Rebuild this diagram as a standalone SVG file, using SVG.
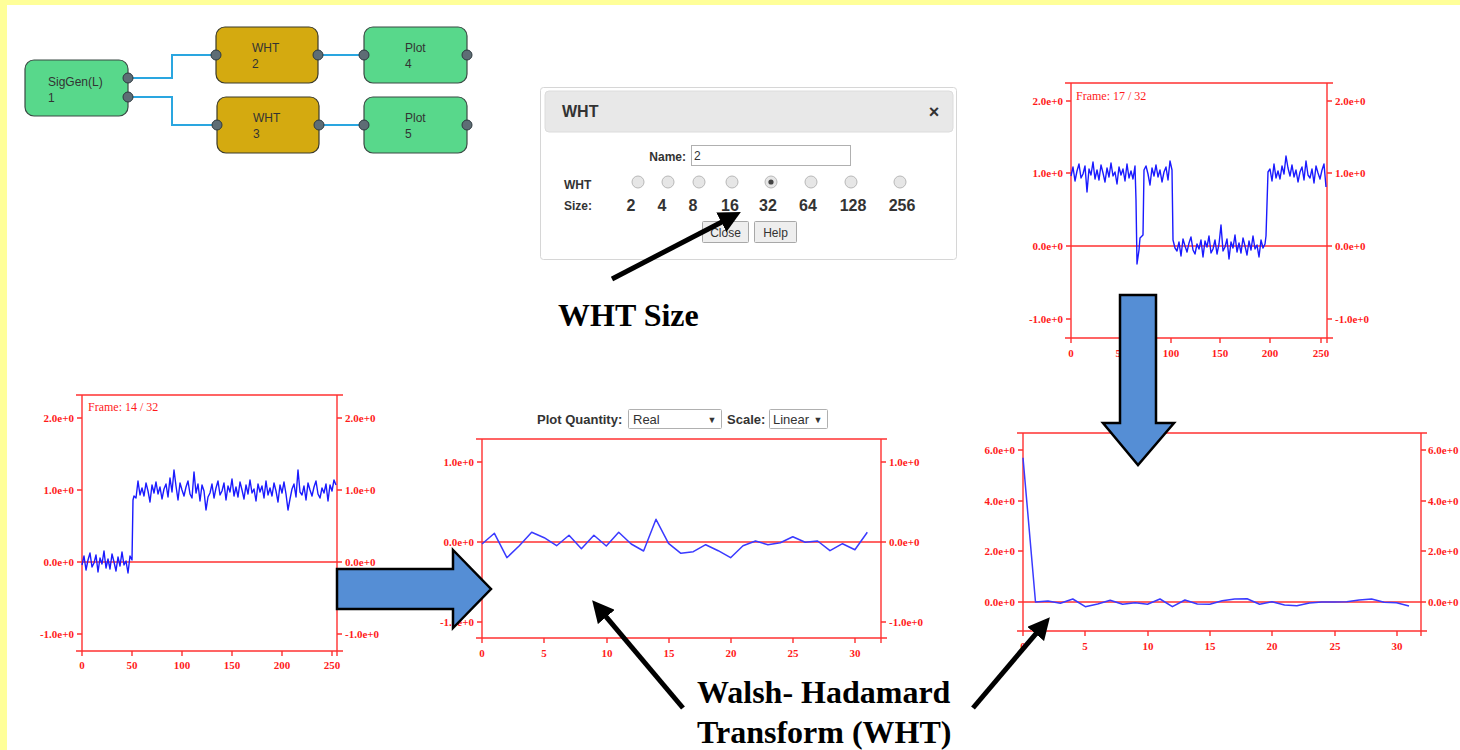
<svg xmlns="http://www.w3.org/2000/svg" width="1460" height="750" viewBox="0 0 1460 750">
  <defs>
    <style>
      .node-text { font-family: "Liberation Sans", Arial, sans-serif; font-size: 12px; fill: #333; }
      .node-green { fill: #58d88b; stroke: #3a4a44; stroke-width: 1.2; }
      .node-gold { fill: #d4aa10; stroke: #3a3a2a; stroke-width: 1.2; }
      .port { fill: #5e6d75; stroke: #2e3a40; stroke-width: 1; }
      .wire { fill: none; stroke: #2aa6e0; stroke-width: 2; }
      .ui { font-family: "Liberation Sans", Arial, sans-serif; fill: #333; }
      .ui-b { font-family: "Liberation Sans", Arial, sans-serif; fill: #333; font-weight: bold; }
      .radio { fill: #e6e6e6; stroke: #b8b8b8; stroke-width: 1; }
      .btn { fill: #eeeeee; stroke: #a8a8a8; stroke-width: 1; }
      .box { fill: #ffffff; stroke: #b0b0b0; stroke-width: 1; }
      .axis { fill: none; stroke: #ff3030; stroke-width: 1.4; }
      .tick { font-family: "Liberation Serif", "Times New Roman", serif; font-size: 11px; font-weight: bold; fill: #ff1a1a; }
      .tl { text-anchor: end; }
      .tm { text-anchor: middle; }
      .frame { font-family: "Liberation Serif", "Times New Roman", serif; font-size: 12px; fill: #ff1a1a; }
      .trace { fill: none; stroke: #1a1aff; stroke-width: 1.4; stroke-linejoin: round; }
      .trace-l { fill: none; stroke: #3a3aff; stroke-width: 1.5; stroke-linejoin: round; }
      .block { fill: #558ed5; stroke: #000; stroke-width: 2.5; stroke-linejoin: miter; }
      .pointer { fill: none; stroke: #000; stroke-width: 5; }
      .caption { font-family: "Liberation Serif", "Times New Roman", serif; font-weight: bold; font-size: 32px; fill: #000; }
    </style>
    <marker id="head" viewBox="0 0 10 10" markerWidth="4.4" markerHeight="4.4" refX="1" refY="5" orient="auto" markerUnits="strokeWidth">
      <path d="M0,0 L10,5 L0,10 z" fill="#000"/>
    </marker>
  </defs>

  <!-- page background with pale yellow margin strips -->
  <rect x="0" y="0" width="1460" height="750" fill="#ffffff"/>
  <rect x="0" y="0" width="1460" height="5" fill="#ffff99"/>
  <rect x="0" y="0" width="7" height="750" fill="#ffff99"/>

  <!-- flow graph -->
  <g id="connectors">
    <polyline class="wire" points="128,78 172,78 172,55 216,55"/>
    <polyline class="wire" points="128,97 172,97 172,125 217,125"/>
    <line class="wire" x1="318" y1="55" x2="364" y2="55"/>
    <line class="wire" x1="319" y1="125" x2="364" y2="125"/>
  </g>
  <g id="node-siggen">
    <rect class="node-green" x="25" y="60" width="103" height="56" rx="9"/>
    <text class="node-text" x="48" y="86">SigGen(L)</text>
    <text class="node-text" x="48" y="102">1</text>
    <circle class="port" cx="128" cy="78" r="5"/>
    <circle class="port" cx="128" cy="97" r="5"/>
  </g>
  <g id="node-wht2">
    <rect class="node-gold" x="216" y="27" width="102" height="56" rx="9"/>
    <text class="node-text" x="252" y="52">WHT</text>
    <text class="node-text" x="252" y="68">2</text>
    <circle class="port" cx="216" cy="55" r="5"/>
    <circle class="port" cx="318" cy="55" r="5"/>
  </g>
  <g id="node-plot4">
    <rect class="node-green" x="364" y="27" width="103" height="56" rx="9"/>
    <text class="node-text" x="405" y="52">Plot</text>
    <text class="node-text" x="405" y="68">4</text>
    <circle class="port" cx="364" cy="55" r="5"/>
    <circle class="port" cx="467" cy="55" r="5"/>
  </g>
  <g id="node-wht3">
    <rect class="node-gold" x="217" y="97" width="102" height="56" rx="9"/>
    <text class="node-text" x="253" y="122">WHT</text>
    <text class="node-text" x="253" y="138">3</text>
    <circle class="port" cx="217" cy="125" r="5"/>
    <circle class="port" cx="319" cy="125" r="5"/>
  </g>
  <g id="node-plot5">
    <rect class="node-green" x="364" y="97" width="103" height="56" rx="9"/>
    <text class="node-text" x="405" y="122">Plot</text>
    <text class="node-text" x="405" y="138">5</text>
    <circle class="port" cx="364" cy="125" r="5"/>
    <circle class="port" cx="467" cy="125" r="5"/>
  </g>

  <!-- WHT settings dialog -->
  <g id="dialog">
    <rect x="540.5" y="87.5" width="416" height="172" rx="3" fill="#fff" stroke="#d6d6d6"/>
    <rect x="545" y="91" width="408" height="41" rx="4" fill="#e8e8e8" stroke="#dcdcdc"/>
    <text class="ui-b" x="562" y="117" font-size="16">WHT</text>
    <text class="ui-b" x="934" y="118" font-size="18" text-anchor="middle">×</text>
    <text class="ui-b" x="686" y="161" font-size="12" text-anchor="end">Name:</text>
    <rect class="box" x="691.5" y="145.5" width="159" height="20"/>
    <text class="ui" x="694" y="160" font-size="12">2</text>
    <text class="ui-b" x="564" y="189" font-size="12">WHT</text>
    <text class="ui-b" x="564" y="210" font-size="12">Size:</text>
    <circle class="radio" cx="638" cy="182" r="6"/>
    <circle class="radio" cx="668" cy="182" r="6"/>
    <circle class="radio" cx="699" cy="182" r="6"/>
    <circle class="radio" cx="732" cy="182" r="6"/>
    <circle class="radio" cx="771" cy="182" r="6"/>
    <circle cx="771" cy="182" r="2.6" fill="#444"/>
    <circle class="radio" cx="811" cy="182" r="6"/>
    <circle class="radio" cx="851" cy="182" r="6"/>
    <circle class="radio" cx="900" cy="182" r="6"/>
    <g class="ui-b" font-size="16" text-anchor="middle">
      <text x="631" y="211">2</text>
      <text x="662" y="211">4</text>
      <text x="693" y="211">8</text>
      <text x="730" y="211">16</text>
      <text x="768" y="211">32</text>
      <text x="808" y="211">64</text>
      <text x="853" y="211">128</text>
      <text x="902" y="211">256</text>
    </g>
    <rect class="btn" x="702.5" y="221.5" width="46" height="21" rx="1"/>
    <text class="ui" x="725.5" y="237" font-size="12" text-anchor="middle">Close</text>
    <rect class="btn" x="754.5" y="221.5" width="42" height="21" rx="1"/>
    <text class="ui" x="775.5" y="237" font-size="12" text-anchor="middle">Help</text>
  </g>

  <!-- time-domain plot, frame 17 -->
  <g id="plot-frame17">
    <polyline class="axis" points="1065,83 1333,83"/>
    <line class="axis" x1="1071" y1="83" x2="1071" y2="343"/>
    <line class="axis" x1="1327" y1="83" x2="1327" y2="343"/>
    <line class="axis" x1="1065" y1="338" x2="1333" y2="338"/>
    <line class="axis" x1="1071" y1="246" x2="1327" y2="246"/>
    <path class="axis" d="M1066,101H1071M1066,173H1071M1066,246H1071M1066,319H1071M1327,101H1332M1327,173H1332M1327,246H1332M1327,319H1332M1121,338V343M1171,338V343M1220,338V343M1270,338V343M1321,338V343"/>
    <g class="tick tl">
      <text x="1063" y="105">2.0e+0</text>
      <text x="1063" y="177">1.0e+0</text>
      <text x="1063" y="250">0.0e+0</text>
      <text x="1063" y="323">-1.0e+0</text>
    </g>
    <g class="tick">
      <text x="1335" y="105">2.0e+0</text>
      <text x="1335" y="177">1.0e+0</text>
      <text x="1335" y="250">0.0e+0</text>
      <text x="1335" y="323">-1.0e+0</text>
    </g>
    <g class="tick tm">
      <text x="1071" y="357">0</text>
      <text x="1121" y="357">50</text>
      <text x="1171" y="357">100</text>
      <text x="1220" y="357">150</text>
      <text x="1270" y="357">200</text>
      <text x="1321" y="357">250</text>
    </g>
    <text class="frame" x="1076" y="100">Frame: 17 / 32</text>
    <polyline class="trace" points="1071,176 1073,167 1075,181 1077,171 1079,164 1081,178 1083,174 1085,166 1087,192 1089,169 1091,175 1093,162 1095,179 1097,170 1099,180 1101,165 1103,173 1105,182 1107,168 1109,177 1111,163 1113,176 1115,172 1117,184 1119,167 1121,175 1123,169 1125,181 1127,164 1129,178 1131,171 1133,179 1135,166 1136,200 1137,264 1139,250 1140,238 1142,236 1143,235 1144,170 1146,166 1148,174 1150,185 1152,168 1154,176 1156,165 1158,177 1160,170 1162,182 1164,172 1166,167 1168,180 1170,161 1172,170 1173,240 1175,248 1177,251 1179,242 1181,256 1183,239 1185,246 1187,252 1189,243 1191,237 1193,250 1195,254 1197,244 1199,249 1201,240 1203,257 1205,241 1207,247 1209,236 1211,253 1213,249 1215,240 1217,254 1219,244 1221,225 1223,251 1225,247 1227,239 1229,259 1231,242 1233,248 1235,235 1237,252 1239,243 1241,253 1243,238 1245,246 1247,255 1249,241 1251,250 1253,236 1255,249 1257,245 1259,257 1261,240 1263,248 1265,244 1266,236 1268,172 1270,169 1272,181 1274,164 1276,178 1278,171 1280,179 1282,166 1284,174 1286,156 1288,168 1290,176 1292,165 1294,177 1296,170 1298,182 1300,172 1302,167 1304,180 1306,161 1308,175 1310,178 1312,169 1314,183 1316,166 1318,173 1320,179 1322,170 1324,164 1326,187"/>
  </g>

  <!-- time-domain plot, frame 14 -->
  <g id="plot-frame14">
    <line class="axis" x1="76" y1="395" x2="343" y2="395"/>
    <line class="axis" x1="82" y1="395" x2="82" y2="656"/>
    <line class="axis" x1="337" y1="395" x2="337" y2="656"/>
    <line class="axis" x1="76" y1="651" x2="343" y2="651"/>
    <line class="axis" x1="82" y1="562" x2="337" y2="562"/>
    <path class="axis" d="M77,418H82M77,490H82M77,562H82M77,634H82M337,418H342M337,490H342M337,562H342M337,634H342M132,651V656M182,651V656M232,651V656M282,651V656M332,651V656"/>
    <g class="tick tl">
      <text x="74" y="422">2.0e+0</text>
      <text x="74" y="494">1.0e+0</text>
      <text x="74" y="566">0.0e+0</text>
      <text x="74" y="638">-1.0e+0</text>
    </g>
    <g class="tick">
      <text x="345" y="422">2.0e+0</text>
      <text x="345" y="494">1.0e+0</text>
      <text x="345" y="566">0.0e+0</text>
      <text x="345" y="638">-1.0e+0</text>
    </g>
    <g class="tick tm">
      <text x="82" y="669">0</text>
      <text x="132" y="669">50</text>
      <text x="182" y="669">100</text>
      <text x="232" y="669">150</text>
      <text x="282" y="669">200</text>
      <text x="332" y="669">250</text>
    </g>
    <text class="frame" x="88" y="411">Frame: 14 / 32</text>
    <polyline class="trace" points="82,565 84,556 86,570 88,560 90,553 92,567 94,563 96,555 98,572 100,558 102,564 104,551 106,568 108,559 110,569 112,554 114,562 116,571 118,557 120,566 122,552 124,565 126,561 128,573 130,556 132,560 133,500 134,496 136,498 138,481 140,495 142,488 144,496 146,483 148,491 150,502 152,485 154,493 156,482 158,494 160,487 162,499 164,489 166,484 168,497 170,478 172,492 174,470 176,486 178,500 180,483 182,490 184,496 186,487 188,481 190,494 192,498 194,472 196,493 198,484 200,501 202,485 204,491 206,510 208,497 210,493 212,484 214,498 216,488 218,481 220,495 222,491 224,483 226,500 228,486 230,492 232,479 234,496 236,487 238,497 240,482 242,490 244,499 246,485 248,494 250,480 252,493 254,489 256,501 258,484 260,492 262,486 264,498 266,481 268,495 270,488 272,496 274,483 276,491 278,502 280,485 282,493 284,482 286,494 288,510 290,499 292,489 294,484 296,497 298,470 300,492 302,495 304,486 306,500 308,483 310,490 312,496 314,487 316,481 318,494 320,498 322,488 324,493 326,484 328,501 330,485 332,491 334,480 336,485"/>
  </g>

  <!-- WHT output plot with controls -->
  <g id="plot-wht-real">
    <text class="ui-b" x="537" y="424" font-size="13">Plot Quantity:</text>
    <rect class="box" x="628.5" y="409.5" width="93" height="19" rx="1"/>
    <text class="ui" x="633" y="424" font-size="13">Real</text>
    <text class="ui" x="712" y="423" font-size="9" text-anchor="middle">▼</text>
    <text class="ui-b" x="727" y="424" font-size="13">Scale:</text>
    <rect class="box" x="769.5" y="409.5" width="58" height="19" rx="1"/>
    <text class="ui" x="773" y="424" font-size="13">Linear</text>
    <text class="ui" x="818" y="423" font-size="9" text-anchor="middle">▼</text>
    <line class="axis" x1="476" y1="439" x2="887" y2="439"/>
    <line class="axis" x1="482" y1="439" x2="482" y2="643"/>
    <line class="axis" x1="881" y1="439" x2="881" y2="643"/>
    <line class="axis" x1="476" y1="638" x2="887" y2="638"/>
    <line class="axis" x1="482" y1="542" x2="881" y2="542"/>
    <path class="axis" d="M477,462H482M477,542H482M477,622H482M881,462H886M881,542H886M881,622H886M544,638V643M607,638V643M669,638V643M731,638V643M793,638V643M855,638V643"/>
    <g class="tick tl">
      <text x="474" y="466">1.0e+0</text>
      <text x="474" y="546">0.0e+0</text>
      <text x="474" y="626">-1.0e+0</text>
    </g>
    <g class="tick">
      <text x="889" y="466">1.0e+0</text>
      <text x="889" y="546">0.0e+0</text>
      <text x="889" y="626">-1.0e+0</text>
    </g>
    <g class="tick tm">
      <text x="482" y="657">0</text>
      <text x="544" y="657">5</text>
      <text x="607" y="657">10</text>
      <text x="669" y="657">15</text>
      <text x="731" y="657">20</text>
      <text x="793" y="657">25</text>
      <text x="855" y="657">30</text>
    </g>
    <polyline class="trace-l" points="482,544 494.4,533.3 506.9,557.7 519.3,545.7 531.7,532.3 544.2,537.7 556.6,545.7 569,535.3 581.4,548.7 593.9,535.3 606.3,546 618.7,532.3 631.2,544 643.6,551 656,519.3 668.5,543.3 680.9,553.3 693.3,551.7 705.7,544.7 718.2,550.7 730.6,557.7 743,545.7 755.5,541 767.9,544.7 780.3,542.7 792.8,536.7 805.2,542.3 817.6,541 830,550.7 842.5,543.7 854.9,549.7 867.3,532.3"/>
  </g>

  <!-- WHT output plot, frame 17 -->
  <g id="plot-wht-frame17">
    <line class="axis" x1="1017" y1="433" x2="1427" y2="433"/>
    <line class="axis" x1="1023" y1="433" x2="1023" y2="636"/>
    <line class="axis" x1="1421" y1="433" x2="1421" y2="636"/>
    <line class="axis" x1="1017" y1="631" x2="1427" y2="631"/>
    <line class="axis" x1="1023" y1="602" x2="1421" y2="602"/>
    <path class="axis" d="M1018,450H1023M1018,501H1023M1018,551H1023M1018,602H1023M1421,450H1426M1421,501H1426M1421,551H1426M1421,602H1426M1085,631V636M1148,631V636M1210,631V636M1272,631V636M1335,631V636M1397,631V636"/>
    <g class="tick tl">
      <text x="1015" y="454">6.0e+0</text>
      <text x="1015" y="505">4.0e+0</text>
      <text x="1015" y="555">2.0e+0</text>
      <text x="1015" y="606">0.0e+0</text>
    </g>
    <g class="tick">
      <text x="1428" y="454">6.0e+0</text>
      <text x="1428" y="505">4.0e+0</text>
      <text x="1428" y="555">2.0e+0</text>
      <text x="1428" y="606">0.0e+0</text>
    </g>
    <g class="tick tm">
      <text x="1023" y="650">0</text>
      <text x="1085" y="650">5</text>
      <text x="1148" y="650">10</text>
      <text x="1210" y="650">15</text>
      <text x="1272" y="650">20</text>
      <text x="1335" y="650">25</text>
      <text x="1397" y="650">30</text>
    </g>
    <polyline class="trace-l" points="1023,457.7 1035.5,602 1047.9,601 1060.4,603.3 1072.8,599 1085.3,606.7 1097.7,604 1110.2,600.3 1122.6,604.3 1135.1,602.7 1147.5,604.3 1160,599 1172.4,606.7 1184.9,600 1197.3,604 1209.8,604.3 1222.2,600.7 1234.7,599 1247.1,598.7 1259.6,604.3 1272,601.7 1284.5,605 1296.9,605.7 1309.4,603 1321.8,602 1334.3,602 1346.7,601.7 1359.2,600 1371.6,599 1384.1,602.3 1396.5,602.7 1409,606"/>
  </g>

  <!-- flow arrows between the plots -->
  <g id="flow-arrows">
    <polygon class="block" points="1120,295 1156,295 1156,423 1174,423 1138,465 1103,423 1120,423"/>
    <polygon class="block" points="337,569 453,569 453,550 491,589 453,628 453,609 337,609"/>
  </g>

  <!-- call-out pointers and captions -->
  <g id="callouts">
    <line class="pointer" x1="612" y1="279" x2="723.3" y2="221.2" marker-end="url(#head)"/>
    <line class="pointer" x1="683" y1="708" x2="604.9" y2="615.3" marker-end="url(#head)"/>
    <line class="pointer" x1="973" y1="708" x2="1037.1" y2="632.3" marker-end="url(#head)"/>
    <text class="caption" x="558" y="326" font-size="33">WHT Size</text>
    <text class="caption" x="697" y="703">Walsh- Hadamard</text>
    <text class="caption" x="697" y="743">Transform (WHT)</text>
  </g>
</svg>
